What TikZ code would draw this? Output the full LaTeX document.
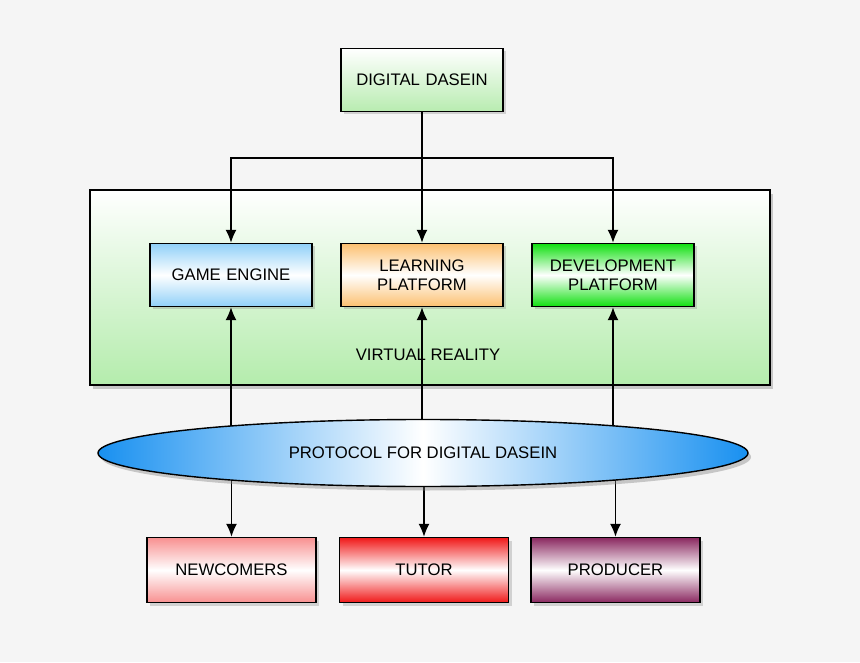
\documentclass[tikz,border=0pt]{standalone}
\usepackage{fontspec}
\setmainfont{Liberation Sans}
\usetikzlibrary{shapes.geometric, arrows.meta, positioning, shadows}
\definecolor{ddgreen}{HTML}{B8ECB0}
\definecolor{vrgreen}{HTML}{B4ECAC}
\definecolor{geblue}{HTML}{90D0F8}
\definecolor{lporange}{HTML}{FCC070}
\definecolor{dpgreen}{HTML}{10E010}
\definecolor{nwpink}{HTML}{F89090}
\definecolor{tured}{HTML}{F01818}
\definecolor{prpurple}{HTML}{8A2860}
\definecolor{pcblue}{HTML}{1890F0}
\tikzset{
	block/.style={draw, thick, minimum width=3.22cm, minimum height=1.26cm,
	text width=3cm, align=center, font=\fontsize{9.5}{11}\selectfont,
	drop shadow={shadow xshift=0.6mm, shadow yshift=-0.6mm, opacity=0.3}},
	band/.style={top color=#1, bottom color=#1, middle color=white},
	link/.style={thick, -{Latex[length=2.6mm, width=2.2mm]}}
}
\begin{document}
\begin{tikzpicture}
	\fill[black!4] (0,0) rectangle (17.2,13.24);
	\useasboundingbox (0,0) rectangle (17.2,13.24);
	% top box
	\node[block, top color=white, bottom color=ddgreen] (dd) at (8.44,11.64) {DIGITAL DASEIN};
	% virtual reality frame
	\node[draw, thick, minimum width=13.6cm, minimum height=3.9cm,
	top color=white, bottom color=vrgreen,
	drop shadow={shadow xshift=0.6mm, shadow yshift=-0.8mm, opacity=0.4}] (vr) at (8.6,7.49) {};
	\node[font=\fontsize{9.5}{11}\selectfont] (vrlabel) at (8.56,6.14) {VIRTUAL REALITY};
	% inner boxes
	\node[block, band=geblue] (ge) at (4.62,7.74) {GAME ENGINE};
	\node[block, band=lporange] (lp) at (8.44,7.74) {LEARNING\\PLATFORM};
	\node[block, band=dpgreen] (dp) at (12.26,7.74) {DEVELOPMENT\\PLATFORM};
	% user boxes
	\node[block, minimum width=3.38cm, minimum height=1.3cm, band=nwpink] (nw) at (4.63,1.84) {NEWCOMERS};
	\node[block, minimum width=3.38cm, minimum height=1.3cm, band=tured] (tu) at (8.48,1.84) {TUTOR};
	\node[block, minimum width=3.38cm, minimum height=1.3cm, band=prpurple] (pr) at (12.31,1.84) {PRODUCER};
	
	% Arrows
	\coordinate (split) at (8.44,10.08);
	\coordinate (pc) at (8.46,4.18);
	\draw[thick] (dd.south) -- (split);
	\draw[link] (split) -| (ge.north);
	\draw[link] (split) -- (lp.north);
	\draw[link] (split) -| (dp.north);
	\draw[link] (ge.south |- pc) -- (ge.south);
	\draw[link] (lp.south |- pc) -- (lp.south);
	\draw[link] (dp.south |- pc) -- (dp.south);
	\draw[link] (nw.north |- pc) -- (nw.north);
	\draw[link] (tu.north |- pc) -- (tu.north);
	\draw[link] (pr.north |- pc) -- (pr.north);
	% protocol
	\node[ellipse, draw, thick, minimum width=13cm, minimum height=1.34cm,
	left color=pcblue, right color=pcblue, middle color=white,
	font=\fontsize{9.5}{11}\selectfont,
	drop shadow={shadow xshift=0.6mm, shadow yshift=-0.8mm, opacity=0.4}] (pfd) at (pc) {PROTOCOL FOR DIGITAL DASEIN};
\end{tikzpicture}
\end{document}
